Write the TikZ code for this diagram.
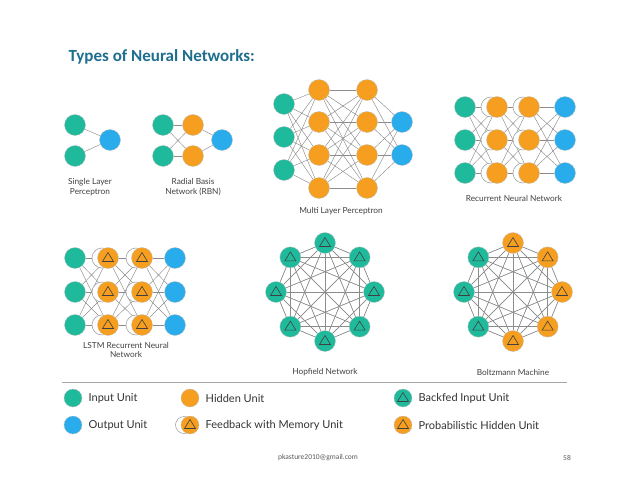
\documentclass[tikz,border=0pt]{standalone}
\usepackage{fontspec}
\setmainfont{Carlito}
\newfontfamily\lblfont{Lato}
\usetikzlibrary{positioning}
\pgfdeclarelayer{background}
\pgfsetlayers{background,main}
\definecolor{inputc}{HTML}{1FBA9B}
\definecolor{hiddenc}{HTML}{F59E1F}
\definecolor{outputc}{HTML}{29ACEB}
\definecolor{titlec}{HTML}{1E6E8E}
\tikzset{
  unit/.style={circle, minimum size=21pt, inner sep=0pt, draw=black!25, line width=0.3pt},
  inu/.style={unit, fill=inputc},
  hidu/.style={unit, fill=hiddenc},
  outu/.style={unit, fill=outputc},
  tri/.style={path picture={\draw[black!75, line width=0.6pt]
      ([yshift=5.5pt]path picture bounding box.center) -- ([xshift=-5.5pt,yshift=-3.5pt]path picture bounding box.center)
      -- ([xshift=5.5pt,yshift=-3.5pt]path picture bounding box.center) -- cycle;}},
  link/.style={draw=black!45, line width=0.45pt},
  memring/.style={draw=black!40, fill=white, line width=0.5pt},
  lbl/.style={font=\lblfont\fontsize{8.3}{9.5}\selectfont, text=black!75, align=center},
  leg/.style={font=\lblfont\fontsize{11}{13}\selectfont, text=black!80, anchor=west}
}
\begin{document}
\begin{tikzpicture}[x=1pt, y=-1pt]
  % the frame
  \useasboundingbox (0,0) rectangle (638,479);
  \node[anchor=west, text=titlec, font=\bfseries\fontsize{17}{20}\selectfont] (title) at (65,57) {Types of Neural Networks:};

  % single layer perceptron
  \node[inu] (slp-i1) at (75,125) {};
  \node[inu] (slp-i2) at (75,156) {};
  \node[outu] (slp-o) at (110,140) {};
  \begin{pgfonlayer}{background}
    \draw[link] (slp-i1) -- (slp-o) (slp-i2) -- (slp-o);
  \end{pgfonlayer}
  \node[lbl] (slp-l) at (90,187) {Single Layer\\Perceptron};

  % radial basis network
  \foreach \j/\y in {1/125,2/156} {
    \node[inu] (rbn-i\j) at (163,\y) {};
    \node[hidu] (rbn-h\j) at (193,\y) {};
  }
  \node[outu] (rbn-o) at (222,140) {};
  \begin{pgfonlayer}{background}
    \foreach \a in {1,2} {
      \foreach \b in {1,2} \draw[link] (rbn-i\a) -- (rbn-h\b);
      \draw[link] (rbn-h\a) -- (rbn-o);
    }
  \end{pgfonlayer}
  \node[lbl] (rbn-l) at (193,187) {Radial Basis\\Network (RBN)};

  % multi layer perceptron
  \foreach \j/\y in {1/104,2/137,3/170} \node[inu] (mlp-i\j) at (284,\y) {};
  \foreach \j/\y in {1/90,2/122,3/155,4/188} {
    \node[hidu] (mlp-a\j) at (319,\y) {};
    \node[hidu] (mlp-b\j) at (367,\y) {};
  }
  \foreach \j/\y in {1/122,2/155} \node[outu] (mlp-o\j) at (402,\y) {};
  \begin{pgfonlayer}{background}
    \foreach \a in {1,...,4} {
      \foreach \b in {1,2,3} \draw[link] (mlp-i\b) -- (mlp-a\a);
      \foreach \b in {1,...,4} \draw[link] (mlp-a\a) -- (mlp-b\b);
      \foreach \b in {1,2} \draw[link] (mlp-b\a) -- (mlp-o\b);
    }
  \end{pgfonlayer}
  \node[lbl] (mlp-l) at (341,211) {Multi Layer Perceptron};

  % recurrent neural network
  \foreach \j/\y in {1/107,2/140,3/173} {
    \node[inu] (rnn-i\j) at (465,\y) {};
    \node[hidu] (rnn-a\j) at (497,\y) {};
    \node[hidu] (rnn-b\j) at (529,\y) {};
    \node[outu] (rnn-o\j) at (565,\y) {};
  }
  \begin{pgfonlayer}{background}
    \foreach \a in {1,2,3} {
      \foreach \b in {1,2,3} \draw[link] (rnn-i\a) -- (rnn-a\b) (rnn-a\a) -- (rnn-b\b) (rnn-b\a) -- (rnn-o\b);
    }
    \foreach \a in {1,2,3} \draw[memring] ([xshift=-6pt]rnn-a\a.center) circle (10pt) ([xshift=-6pt]rnn-b\a.center) circle (10pt);
  \end{pgfonlayer}
  \node[lbl] (rnn-l) at (514,198) {Recurrent Neural Network};

  % lstm recurrent neural network
  \foreach \j/\y in {1/258,2/292,3/325} {
    \node[inu] (lstm-i\j) at (75,\y) {};
    \node[hidu, tri] (lstm-a\j) at (108,\y) {};
    \node[hidu, tri] (lstm-b\j) at (142,\y) {};
    \node[outu] (lstm-o\j) at (175,\y) {};
  }
  \begin{pgfonlayer}{background}
    \foreach \a in {1,2,3} {
      \foreach \b in {1,2,3} \draw[link] (lstm-i\a) -- (lstm-a\b) (lstm-a\a) -- (lstm-b\b) (lstm-b\a) -- (lstm-o\b);
    }
    \foreach \a in {1,2,3} \draw[memring] ([xshift=-6pt]lstm-a\a.center) circle (10pt) ([xshift=-6pt]lstm-b\a.center) circle (10pt);
  \end{pgfonlayer}
  \node[lbl] (lstm-l) at (126,350) {LSTM Recurrent Neural\\Network};

  % hopfield network
  \foreach \k in {0,...,7} \node[inu, tri] (hop-\k) at ({325+49*sin(45*\k)},{292-49*cos(45*\k)}) {};
  \begin{pgfonlayer}{background}
    \foreach \a in {0,...,7} \foreach \b in {0,...,7} \draw[link] (hop-\a) -- (hop-\b);
  \end{pgfonlayer}
  \node[lbl] (hop-l) at (325,372) {Hopfield Network};

  % boltzmann machine
  \foreach \k/\s in {0/hidu,1/hidu,2/hidu,3/hidu,4/hidu,5/inu,6/inu,7/inu}
    \node[\s, tri] (bm-\k) at ({513+49*sin(45*\k)},{292-49*cos(45*\k)}) {};
  \begin{pgfonlayer}{background}
    \foreach \a in {0,...,7} \foreach \b in {0,...,7} \draw[link] (bm-\a) -- (bm-\b);
  \end{pgfonlayer}
  \node[lbl] (bm-l) at (513,372) {Boltzmann Machine};

  % legend
  \coordinate (rule-l) at (62,382);
  \coordinate (rule-r) at (567,382);
  \draw[black!35, line width=0.8pt] (rule-l) -- (rule-r);
  \node[inu, minimum size=18pt] (lg-in) at (73,398) {};
  \node[leg, right=3pt of lg-in] {Input Unit};
  \node[outu, minimum size=18pt] (lg-out) at (73,425) {};
  \node[leg, right=3pt of lg-out] {Output Unit};
  \node[hidu, minimum size=18pt] (lg-hid) at (190,398) {};
  \node[leg, right=3pt of lg-hid] {Hidden Unit};
  \draw[memring] (184,425) circle (8.5pt);
  \node[hidu, tri, minimum size=18pt] (lg-mem) at (190,425) {};
  \node[leg, right=3pt of lg-mem] {Feedback with Memory Unit};
  \node[inu, tri, minimum size=18pt] (lg-back) at (403,398) {};
  \node[leg, right=3pt of lg-back] {Backfed Input Unit};
  \node[hidu, tri, minimum size=18pt] (lg-prob) at (403,425) {};
  \node[leg, right=3pt of lg-prob] {Probabilistic Hidden Unit};

  % footer
  \node[text=black!65, font=\fontsize{7.5}{9}\selectfont] (mail) at (318,458) {pkasture2010@gmail.com};
  \node[text=black!65, font=\fontsize{7.5}{9}\selectfont] (page) at (567,458) {58};
\end{tikzpicture}
\end{document}
